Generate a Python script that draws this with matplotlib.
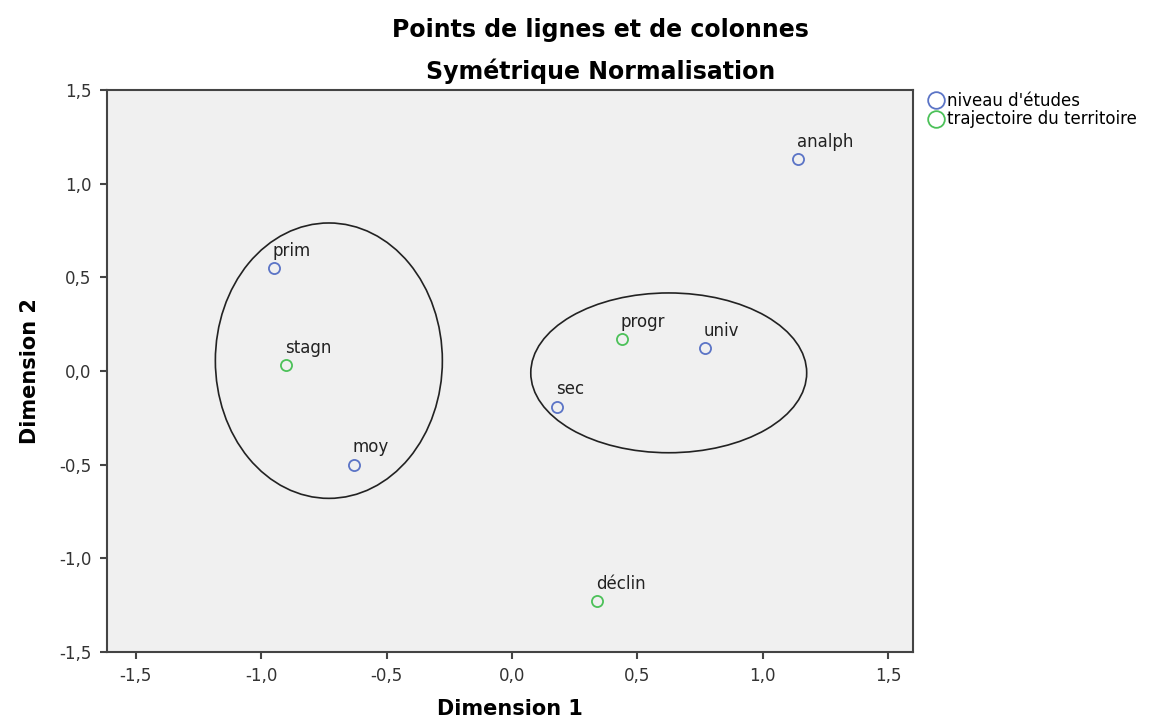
import numpy as np
import matplotlib.pyplot as plt
from matplotlib.patches import Ellipse

plt.rcParams['font.family'] = ['DejaVu Sans']

# niveau d'etudes (lignes)
row_labels = ['analph', 'prim', 'moy', 'sec', 'univ']
row_x = [1.14, -0.95, -0.63, 0.18, 0.77]
row_y = [1.13, 0.55, -0.50, -0.19, 0.12]

# trajectoire du territoire (colonnes)
col_labels = ['stagn', 'progr', 'déclin']
col_x = [-0.90, 0.44, 0.34]
col_y = [0.03, 0.17, -1.23]

# ellipses drawn around the groups (centre x, centre y, width, height)
ell_left = (-0.73, 0.055, 0.905, 1.47)
ell_right = (0.625, -0.01, 1.10, 0.853)

blue = '#5b74c6'
green = '#4cc159'

fig = plt.figure(figsize=(11.59, 7.17), dpi=100)
ax = fig.add_axes([0.092, 0.0907, 0.696, 0.7838])
ax.set_facecolor('#f0f0f0')

ax.plot(row_x, row_y, 'o', ms=8, mfc='none', mec=blue, mew=1.3,
        label="niveau d'études", zorder=3)
ax.plot(col_x, col_y, 'o', ms=8, mfc='none', mec=green, mew=1.3,
        label='trajectoire du territoire', zorder=3)

for lab, x, y in zip(row_labels + col_labels, row_x + col_x, row_y + col_y):
    ax.annotate(lab, (x, y), xytext=(-1, 6), textcoords='offset points',
                fontsize=12, color='#222222', ha='left', va='bottom')

for cx, cy, w, h in (ell_left, ell_right):
    ax.add_patch(Ellipse((cx, cy), w, h, fill=False, ec='#222222', lw=1.2))

ax.set_xlim(-1.616, 1.60)
ax.set_ylim(-1.5, 1.5)
ticks = [-1.5, -1.0, -0.5, 0.0, 0.5, 1.0, 1.5]
ax.set_xticks(ticks)
ax.set_yticks(ticks)
ax.set_xticklabels([f'{t:.1f}'.replace('.', ',') for t in ticks])
ax.set_yticklabels([f'{t:.1f}'.replace('.', ',') for t in ticks])
ax.tick_params(length=5, width=1.5, color='#444444', labelsize=12,
               labelcolor='#333333', pad=6)
for s in ax.spines.values():
    s.set_color('#444444')
    s.set_linewidth(1.5)

ax.set_xlabel('Dimension 1', fontsize=15, fontweight='bold', labelpad=10)
ax.set_ylabel('Dimension 2', fontsize=15, fontweight='bold', labelpad=14)

fig.text(0.518, 0.958, 'Points de lignes et de colonnes', ha='center',
         va='center', fontsize=17, fontweight='bold')
fig.text(0.518, 0.9, 'Symétrique Normalisation', ha='center',
         va='center', fontsize=17, fontweight='bold')

leg = ax.legend(loc='upper left', bbox_to_anchor=(1.0, 1.018), frameon=False,
                fontsize=12, handletextpad=0.0, borderaxespad=0.3,
                labelspacing=0.05, markerscale=1.5, handlelength=1.3)

fig.savefig('out.png', dpi=100)
